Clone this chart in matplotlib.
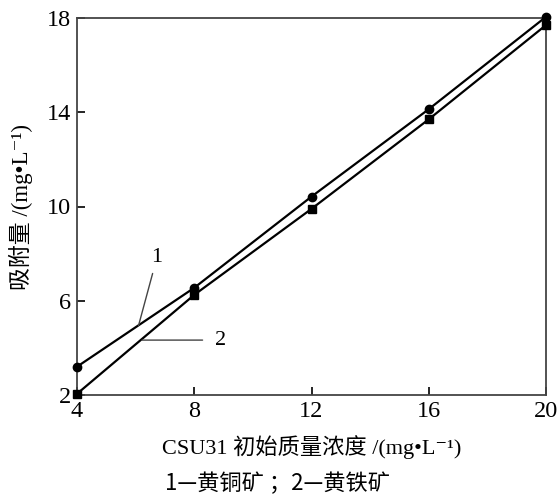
import matplotlib.pyplot as plt
import numpy as np

plt.rcParams['font.family'] = ['Liberation Serif', 'Noto Sans CJK SC', 'DejaVu Serif']

# 数据
conc = [4, 8, 12, 16, 20]
chalcopyrite = [3.2, 6.55, 10.42, 14.13, 18.05]   # 1 黄铜矿
pyrite = [2.05, 6.25, 9.9, 13.7, 17.7]            # 2 黄铁矿
x_ticks = [4, 8, 12, 16, 20]
y_ticks = [2, 6, 10, 14, 18]

fig = plt.figure(figsize=(5.58, 5.0), dpi=100)
ax = fig.add_axes([0.138, 0.21, 0.8405, 0.754])

ax.plot(conc, chalcopyrite, color='black', lw=1.6, marker='o', ms=6, clip_on=False, zorder=3)
ax.plot(conc, pyrite, color='black', lw=1.6, marker='s', ms=5.5, clip_on=False, zorder=3)

ax.set_xlim(4, 20)
ax.set_ylim(2, 18)
ax.set_xticks(x_ticks)
ax.set_yticks(y_ticks)
ax.tick_params(direction='in', length=6, width=1.2, labelsize=17.5, pad=4,
               top=False, right=False)
for sp in ax.spines.values():
    sp.set_linewidth(1.3)
    sp.set_color('#444444')

# 曲线编号
ax.annotate('1', xy=(6.1, 4.95), xytext=(6.73, 7.85), fontsize=16,
            ha='center', va='center',
            arrowprops=dict(arrowstyle='-', color='#444444', lw=1.0, shrinkA=3, shrinkB=0))
ax.annotate('2', xy=(6.22, 4.33), xytext=(8.9, 4.33), fontsize=16,
            ha='center', va='center',
            arrowprops=dict(arrowstyle='-', color='#444444', lw=1.0, shrinkA=7, shrinkB=0))

ax.set_xlabel('CSU31 初始质量浓度 /(mg•L⁻¹)', fontsize=16, labelpad=10)
ax.set_ylabel('吸附量 /(mg•L⁻¹)', fontsize=16.5, labelpad=10)

fig.text(0.498, 0.032, '1—黄铜矿 ；2—黄铁矿', ha='center', va='center', fontsize=16,
         family=['Noto Sans CJK SC', 'DejaVu Sans'])

fig.savefig('out.png', dpi=100)
